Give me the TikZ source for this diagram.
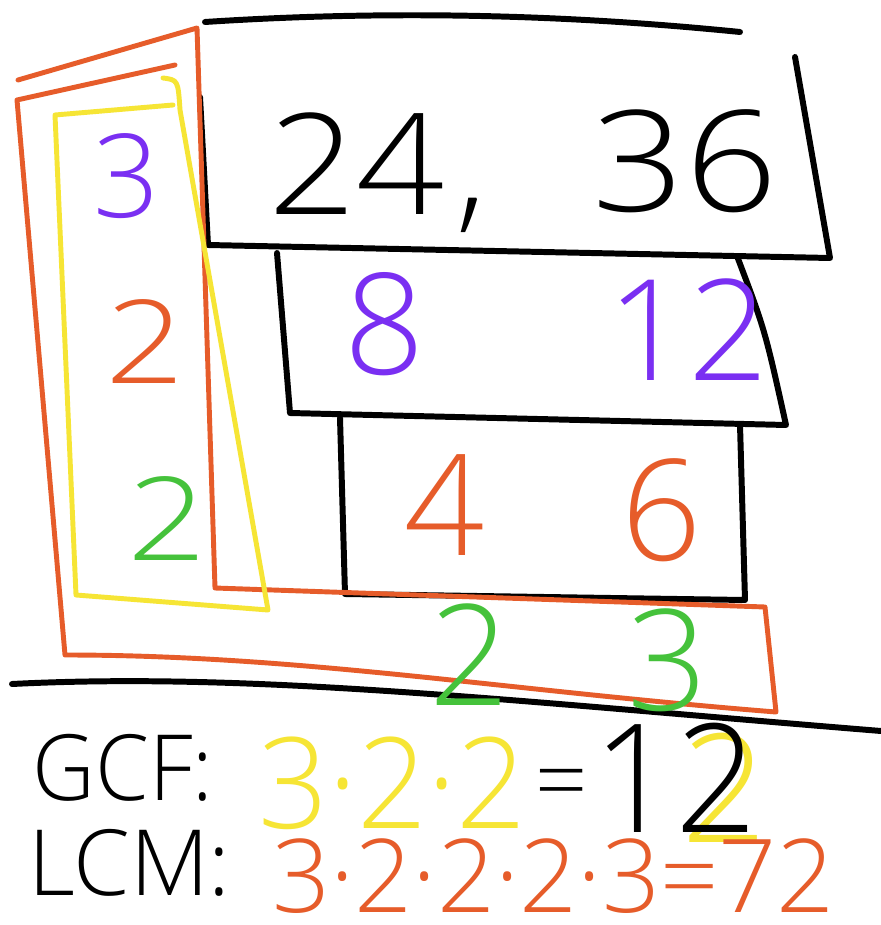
\documentclass[tikz,border=0pt]{standalone}
\usepackage{fontspec}
\setmainfont{Open Sans}[UprightFont=* Light]
\usetikzlibrary{positioning}
\definecolor{MarkerPurple}{HTML}{7A2FF2}
\definecolor{MarkerOrange}{HTML}{E65C2A}
\definecolor{MarkerGreen}{HTML}{45C23B}
\definecolor{MarkerYellow}{HTML}{F6E535}

\begin{document}
\begin{tikzpicture}[x=0.02cm, y=-0.02cm, line cap=round, line join=round,
  pen/.style={line width=3.4pt, black},
  marker/.style={line width=2.8pt},
  big/.style={inner sep=0pt, font=\fontsize{80}{80}\selectfont},
  mid/.style={inner sep=0pt, font=\fontsize{66}{66}\selectfont},
  small/.style={inner sep=0pt, font=\fontsize{52}{52}\selectfont}]
  \useasboundingbox[fill=white] (0,0) rectangle (881,925);

  % black ladder boxes
  \draw[pen] (205,22) .. controls (420,8) and (600,18) .. (740,32);
  \draw[pen] (200,97) -- (208,245) -- (830,258) -- (795,57);
  \draw[pen] (277,253) -- (290,413) -- (786,425) .. controls (765,330) .. (737,256);
  \draw[pen] (340,418) -- (345,594) -- (745,600) -- (740,425);
  \draw[pen] (12,684) .. controls (250,672) and (500,700) .. (881,731);

  % orange L (LCM)
  \draw[marker, MarkerOrange] (18,80) -- (197,28) -- (215,588) -- (765,607) -- (776,712)
    .. controls (500,690) and (300,655) .. (65,655) -- (17,100) -- (175,65);
  % yellow column (GCF)
  \draw[marker, MarkerYellow] (163,78) .. controls (178,80) .. (180,110) -- (268,610)
    -- (76,595) -- (55,115) -- (173,105);

  % numbers
  \node[big, anchor=base west] (pair) at (268,215) {\scalebox{1.1}[1]{24}\kern0.08em,};
  \node[big, anchor=base] (thirtysix) at (685,212) {\scalebox{1.15}[1]{36}};
  \node[mid, anchor=base, MarkerPurple] (fthree) at (127,218) {3};
  \node[mid, anchor=base, MarkerOrange] (ftwoa) at (145,383) {\scalebox{1.2}[1]{2}};
  \node[mid, anchor=base, MarkerGreen] (ftwob) at (167,560) {\scalebox{1.2}[1]{2}};
  \node[big, anchor=base, MarkerPurple] (eight) at (385,375) {8};
  \node[big, anchor=base, MarkerPurple] (twelve) at (688,380) {12};
  \node[big, anchor=base, MarkerOrange] (four) at (445,555) {4};
  \node[big, anchor=base, MarkerOrange] (six) at (662,560) {6};
  \node[big, anchor=base, MarkerGreen] (qtwo) at (470,705) {2};
  \node[big, anchor=base, MarkerGreen] (qthree) at (668,710) {3};

  % results
  \node[small, anchor=base west] (gcf) at (32,800) {\scalebox{0.95}[1]{GCF:}};
  \node[inner sep=0pt, font=\fontsize{72}{72}\selectfont, anchor=base west, MarkerYellow] (gcfprod) at (258,828) {\scalebox{0.97}[1]{3·2·2}};
  \node[small, anchor=base west] (gcfeq) at (535,812) {=};
  \node[inner sep=0pt, font=\fontsize{86}{86}\selectfont, anchor=base, MarkerYellow] (gcfshade) at (725,842) {2};
  \node[inner sep=0pt, font=\fontsize{86}{86}\selectfont, anchor=base] (gcfres) at (675,832) {\scalebox{0.95}[1]{12}};
  \node[small, anchor=base west] (lcm) at (28,895) {LCM:};
  \node[inner sep=0pt, font=\fontsize{58}{58}\selectfont, anchor=base west, MarkerOrange] (lcmprod) at (272,912) {3·2·2·2·3=72};
\end{tikzpicture}
\end{document}
